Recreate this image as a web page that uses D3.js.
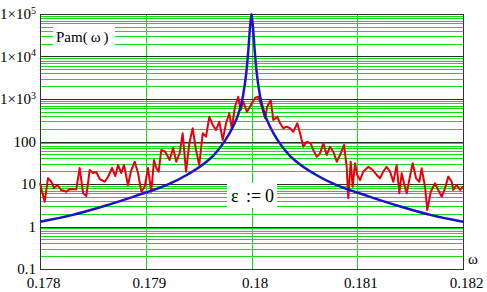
<!DOCTYPE html>
<html>
<head>
<meta charset="utf-8">
<script src="https://cdn.jsdelivr.net/npm/d3@7"></script>
<style>
  body { margin: 0; background: #ffffff; }
  svg { display: block; }
  .tick-label { font-family: "Liberation Serif", "Times New Roman", serif; font-size: 15px; fill: #000; }
</style>
</head>
<body>
<svg id="chart"></svg>
<script>
// x tick values and labels
var xTicks = [0.178, 0.179, 0.18, 0.181, 0.182];
var xTickLabels = ["0.178", "0.179", "0.18", "0.181", "0.182"];

// y decades and labels (1x10^n drawn with a superscript)
var yTicks = [0.1, 1, 10, 100, 1000, 10000, 100000];
var yTickBase = ["0.1", "1", "10", "100", "1\u00d710", "1\u00d710", "1\u00d710"];
var yTickSup = ["", "", "", "", "3", "4", "5"];

// red series: noisy Pam(w)
var redOmega = [0.178, 0.178044, 0.178076, 0.178107, 0.178132, 0.178164, 0.178201, 0.178249, 0.178281, 0.178343,
  0.178375, 0.178407, 0.178438, 0.17847, 0.178501, 0.178532, 0.178565, 0.178612, 0.178643, 0.178681,
  0.178712, 0.178738, 0.178769, 0.178794, 0.178832, 0.178863, 0.178896, 0.178927, 0.178958, 0.17899,
  0.179021, 0.179052, 0.179078, 0.1791, 0.179122, 0.179147, 0.179185, 0.179226, 0.179258, 0.179289,
  0.179321, 0.179349, 0.179381, 0.179412, 0.179444, 0.179475, 0.179506, 0.179539, 0.17957, 0.179601,
  0.179633, 0.179664, 0.179696, 0.179728, 0.179759, 0.17979, 0.179813, 0.179844, 0.179875, 0.179898,
  0.179922, 0.179957, 0.179995, 0.180033,
  0.180064, 0.180096, 0.180128, 0.180149, 0.180182, 0.180206, 0.180244, 0.18027, 0.180301, 0.180333,
  0.180364, 0.180395, 0.180433, 0.180459, 0.18049, 0.180522, 0.18056, 0.180584, 0.180617, 0.180648,
  0.180679, 0.180711, 0.180742, 0.180774, 0.180806, 0.180837, 0.180875, 0.1809, 0.180915, 0.180938,
  0.180957, 0.180979, 0.181, 0.181026, 0.181057, 0.181105, 0.181146, 0.181184, 0.181215, 0.181246,
  0.181278, 0.18131, 0.181341, 0.181373, 0.181398, 0.18142, 0.181442, 0.181468, 0.181492, 0.181524,
  0.181556, 0.181587, 0.181609, 0.181641, 0.181662, 0.181695, 0.181735, 0.181766, 0.181799, 0.18183,
  0.181861, 0.181893, 0.181908, 0.18194, 0.181972, 0.182];
var redPam = [10.6, 3.83, 13.8, 11.3, 8.05, 9.47, 7.22, 6.59, 7.63, 7.5,
  23.8, 6.14, 5.22, 21.3, 18.1, 19.2, 13.1, 11.3, 14.6, 23.8,
  15.4, 28.0, 18.1, 28.0, 9.47, 21.3, 33.5, 18.1, 6.59, 8.64,
  23.8, 6.59, 36.7, 23.8, 19.5, 63.1, 57.5, 36.7, 70.3, 33.5,
  53.6, 156, 19.5, 90.7, 205, 63.1, 28.0, 156, 130, 383,
  245, 187, 292, 108, 268, 461, 205, 659, 1130, 551,
  864, 494, 722, 1056,
  1130, 659, 351, 659, 947, 321, 383, 268, 205, 223,
  205, 170, 268, 156, 75.5, 98.9, 90.7, 63.1, 43.9, 52.7,
  90.7, 48.1, 75.5, 57.5, 33.5, 48.1, 82.8, 25.5, 4.61, 33.5,
  8.64, 30.7, 16.3, 12.4, 19.5, 25.5, 21.3, 16.3, 13.6, 19.5,
  25.5, 19.5, 11.3, 28.0, 6.04, 17.9, 10.4, 6.04, 12.4, 30.7,
  13.6, 11.3, 23.4, 8.64, 2.44, 6.59, 10.4, 7.22, 5.03, 7.92,
  14.9, 11.3, 7.22, 9.47, 7.22, 8.64];

// blue series: resonance curve, eps = 0
var blueOmega = [0.178, 0.1783, 0.1786, 0.1789, 0.1792, 0.1794, 0.17955, 0.17965, 0.17975, 0.17982,
  0.17988, 0.17992, 0.17995, 0.17997, 0.179985, 0.18,
  0.180015, 0.18003, 0.18005, 0.18008, 0.18012, 0.18018, 0.18025, 0.18035, 0.18045, 0.1806,
  0.1808, 0.1811, 0.1814, 0.1817, 0.182];
var bluePam = [1.3, 1.85, 3.0, 5.2, 9.5, 17, 30, 50, 105, 210,
  480, 1200, 4000, 14000, 45000, 100000,
  45000, 14000, 4000, 1200, 480, 210, 105, 50, 30, 17,
  9.5, 5.2, 3.0, 1.85, 1.3];

var screen = { width: 487, height: 292 };
var margins = { top: 14, bottom: 23, left: 40, right: 24 };

var svg = d3.select("#chart")
  .attr("width", screen.width)
  .attr("height", screen.height);

var plotRight = screen.width - margins.right;
var plotBottom = screen.height - margins.bottom;

var xScale = d3.scaleLinear()
  .domain([0.178, 0.182])
  .range([margins.left, plotRight]);

var yScale = d3.scaleLog()
  .domain([0.1, 100000])
  .range([plotBottom, margins.top]);

// minor grid (green)
var minorTicks = yScale.ticks().filter(function(v){
  return yTicks.indexOf(v) < 0;
});
svg.append("g").selectAll("line")
  .data(minorTicks)
  .enter()
  .append("line")
  .attr("x1", margins.left)
  .attr("x2", plotRight)
  .attr("y1", function(d){ return Math.round(yScale(d)) + 0.5; })
  .attr("y2", function(d){ return Math.round(yScale(d)) + 0.5; })
  .style("stroke", "#10e010")
  .style("stroke-width", 1);

svg.append("g").selectAll("line")
  .data(xTicks.slice(1, -1))
  .enter()
  .append("line")
  .attr("x1", function(d){ return Math.round(xScale(d)) + 0.5; })
  .attr("x2", function(d){ return Math.round(xScale(d)) + 0.5; })
  .attr("y1", margins.top)
  .attr("y2", plotBottom)
  .style("stroke", "#10e010")
  .style("stroke-width", 1);

// decade lines (dark)
svg.append("g").selectAll("line")
  .data(yTicks)
  .enter()
  .append("line")
  .attr("x1", margins.left)
  .attr("x2", plotRight)
  .attr("y1", function(d){ return Math.round(yScale(d)) + 0.5; })
  .attr("y2", function(d){ return Math.round(yScale(d)) + 0.5; })
  .style("stroke", "#303030")
  .style("stroke-width", 1);

// frame
svg.append("rect")
  .attr("x", margins.left + 0.5)
  .attr("y", Math.round(yScale(100000)) + 0.5)
  .attr("width", plotRight - margins.left)
  .attr("height", Math.round(yScale(0.1)) - Math.round(yScale(100000)))
  .style("fill", "none")
  .style("stroke", "#303030")
  .style("stroke-width", 1);

// white label boxes
svg.append("rect").attr("x", 53).attr("y", 25).attr("width", 62).attr("height", 23).style("fill", "#fff");
svg.append("rect").attr("x", 227).attr("y", 183).attr("width", 50).attr("height", 25).style("fill", "#fff");

// curves
var redLine = d3.line()
  .x(function(d, i){ return xScale(redOmega[i]); })
  .y(function(d){ return yScale(d); });

svg.append("path")
  .datum(redPam)
  .attr("d", redLine)
  .style("fill", "none")
  .style("stroke", "#e80000")
  .style("stroke-width", 2)
  .style("stroke-linejoin", "round");

var blueLine = d3.line()
  .x(function(d, i){ return xScale(blueOmega[i]); })
  .y(function(d){ return yScale(d); })
  .curve(d3.curveMonotoneX);

svg.append("path")
  .datum(bluePam)
  .attr("d", blueLine)
  .style("fill", "none")
  .style("stroke", "#1414c8")
  .style("stroke-width", 2.5);

// x axis labels
var xAxis = d3.axisBottom(xScale)
  .tickValues(xTicks)
  .tickSize(0)
  .tickPadding(8)
  .tickFormat(function(d, i){ return xTickLabels[i]; });

var xAxisG = svg.append("g")
  .attr("transform", "translate(3," + plotBottom + ")")
  .call(xAxis);
xAxisG.select(".domain").remove();
xAxisG.selectAll("text")
  .attr("class", "tick-label")
  .attr("font-family", null)
  .attr("font-size", null);

// y axis labels
var yAxis = d3.axisLeft(yScale)
  .tickValues(yTicks)
  .tickSize(0)
  .tickPadding(0)
  .tickFormat(function(){ return ""; });

var yAxisG = svg.append("g")
  .attr("transform", "translate(" + (margins.left - 4) + ",0)")
  .call(yAxis);
yAxisG.select(".domain").remove();
yAxisG.selectAll(".tick text").each(function(d, i){
  var t = d3.select(this)
    .attr("class", "tick-label")
    .attr("font-family", null)
    .attr("font-size", null)
    .attr("dy", "0.32em");
  t.append("tspan").text(yTickBase[i]);
  if (yTickSup[i] !== "") {
    t.append("tspan")
      .attr("dy", "-0.55em")
      .style("font-size", "10px")
      .text(yTickSup[i]);
  }
});

// labels
svg.append("text")
  .attr("class", "tick-label")
  .attr("x", 56)
  .attr("y", 42)
  .text("Pam(\u2009\u03c9\u2009)");

var epsLabel = svg.append("text")
  .attr("class", "tick-label")
  .style("font-size", "18px")
  .attr("y", 202);
epsLabel.append("tspan").attr("x", 231).text("\u03b5");
epsLabel.append("tspan").attr("x", 246).text(":=");
epsLabel.append("tspan").attr("x", 265).text("0");

svg.append("text")
  .attr("class", "tick-label")
  .attr("x", 468)
  .attr("y", 264)
  .text("\u03c9");
</script>
</body>
</html>
